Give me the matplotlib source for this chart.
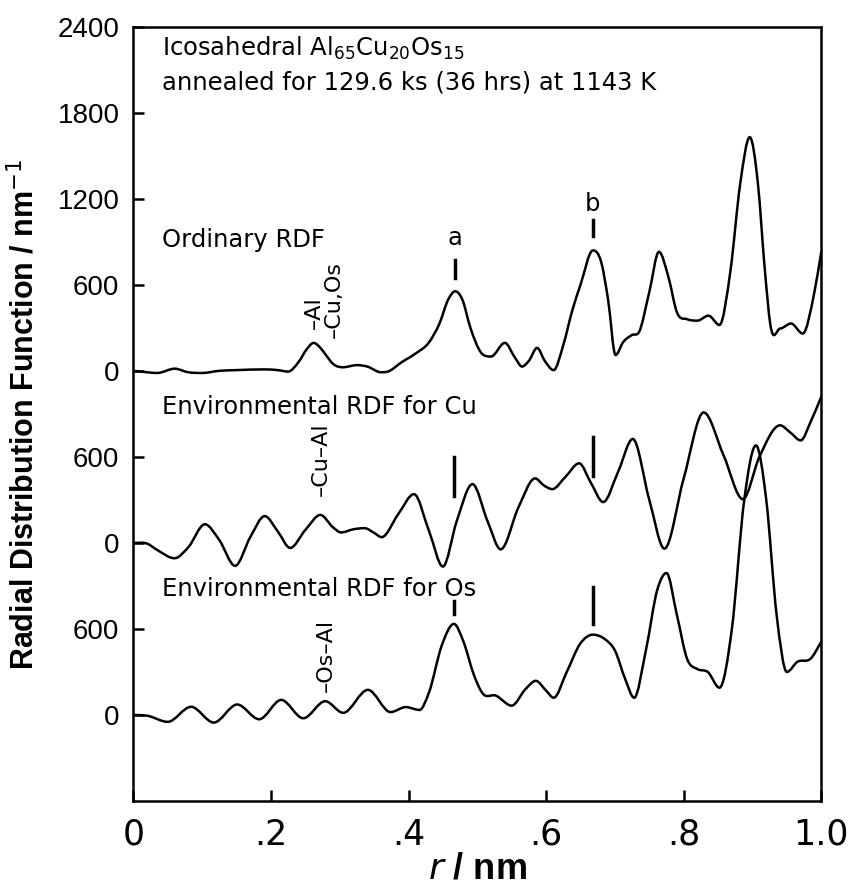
import numpy as np
import matplotlib
matplotlib.use("Agg")
import matplotlib.pyplot as plt
from matplotlib.path import Path
from matplotlib.patches import PathPatch

# r / nm and RDF values (nm^-1)
r_ord = [0.00, 0.02, 0.035, 0.06, 0.08, 0.10, 0.125, 0.15, 0.19, 0.21, 0.225, 0.24, 0.252, 0.262, 0.272,
         0.28, 0.29, 0.305, 0.325, 0.34, 0.36, 0.37, 0.39, 0.41, 0.43, 0.445, 0.458, 0.468, 0.478, 0.49,
         0.505, 0.52, 0.54, 0.555, 0.565, 0.575, 0.587, 0.598, 0.611, 0.625, 0.638, 0.65, 0.668, 0.68,
         0.69, 0.701, 0.712, 0.725, 0.735, 0.75, 0.764, 0.778, 0.79, 0.805, 0.82, 0.836, 0.852, 0.868,
         0.882, 0.896, 0.908, 0.918, 0.926, 0.94, 0.956, 0.973, 0.99, 1.00]
g_ord = [0, -10, -15, 15, -10, -15, 0, 5, 10, 5, -5, 60, 150, 195, 160,
         110, 50, 25, 40, 30, -10, -5, 60, 120, 200, 330, 500, 555, 500, 300,
         130, 100, 195, 90, 30, 70, 160, 70, 5, 180, 420, 600, 840, 760,
         500, 110, 200, 250, 270, 550, 830, 650, 410, 360, 350, 385, 320, 700,
         1300, 1630, 1300, 700, 320, 295, 330, 260, 550, 830]

r_cu = [0.00, 0.02, 0.035, 0.06, 0.08, 0.104, 0.125, 0.148, 0.17, 0.191, 0.21, 0.228, 0.25, 0.272, 0.29,
        0.302, 0.32, 0.336, 0.35, 0.361, 0.385, 0.408, 0.43, 0.45, 0.47, 0.493, 0.515, 0.534, 0.56,
        0.584, 0.597, 0.609, 0.628, 0.648, 0.665, 0.683, 0.705, 0.726, 0.75, 0.772, 0.80, 0.829, 0.858,
        0.886, 0.91, 0.94, 0.955, 0.97, 0.985, 1.00]
g_cu = [0, -5, -50, -107, -30, 130, 20, -160, 40, 187, 80, -35, 90, 195, 110,
        73, 95, 103, 70, 40, 200, 340, 80, -165, 150, 410, 150, -45, 250,
        450, 400, 375, 460, 555, 420, 285, 500, 725, 300, -40, 450, 910, 610,
        305, 600, 820, 770, 715, 850, 1020]

r_os = [0.00, 0.02, 0.05, 0.084, 0.117, 0.151, 0.183, 0.215, 0.247, 0.279, 0.305, 0.341, 0.374, 0.396,
        0.416, 0.43, 0.448, 0.466, 0.48, 0.495, 0.507, 0.527, 0.55, 0.57, 0.585, 0.60, 0.611, 0.63,
        0.65, 0.668, 0.685, 0.70, 0.715, 0.728, 0.745, 0.762, 0.775, 0.79, 0.805, 0.82, 0.835, 0.852,
        0.87, 0.888, 0.905, 0.92, 0.935, 0.95, 0.965, 0.985, 1.00]
g_os = [0, -5, -48, 57, -53, 73, -30, 105, -23, 96, 15, 175, 20, 55,
        35, 160, 480, 635, 510, 280, 155, 135, 65, 180, 238, 170, 120, 300,
        500, 560, 530, 450, 250, 120, 450, 880, 990, 700, 390, 320, 300, 190,
        600, 1500, 1880, 1500, 700, 300, 370, 395, 510]

offsets = [0, -1200, -2400]
ytick_pos = [2400, 1800, 1200, 600, 0, -600, -1200, -1800, -2400]
ytick_lab = ["2400", "1800", "1200", "600", "0", "600", "0", "600", "0"]
xtick_pos = [0, 0.2, 0.4, 0.6, 0.8, 1.0]
xtick_lab = ["0", ".2", ".4", ".6", ".8", "1.0"]

# peak markers: (r, y_low, y_high) in the offset y units
peak_bars = [(0.468, 650, 770), (0.668, 940, 1050),
             (0.466, -870, -600), (0.668, -735, -460),
             (0.466, -1695, -1605), (0.668, -1765, -1510)]


def smooth_path(x, y):
    # cubic bezier segments through the read points (drawn by matplotlib)
    x = np.asarray(x, float)
    y = np.asarray(y, float)
    n = len(x)
    h = np.diff(x)
    d = np.diff(y) / h
    s = np.zeros(n)
    s[0], s[-1] = d[0], d[-1]
    for i in range(1, n - 1):
        if d[i - 1] * d[i] <= 0:
            s[i] = 0.0
        else:
            s[i] = (d[i - 1] * h[i] + d[i] * h[i - 1]) / (h[i - 1] + h[i])
    verts = [(x[0], y[0])]
    codes = [Path.MOVETO]
    for i in range(n - 1):
        verts += [(x[i] + h[i] / 3, y[i] + s[i] * h[i] / 3),
                  (x[i + 1] - h[i] / 3, y[i + 1] - s[i + 1] * h[i] / 3),
                  (x[i + 1], y[i + 1])]
        codes += [Path.CURVE4] * 3
    return Path(verts, codes)


sans = ["Liberation Sans", "DejaVu Sans"]
txt = ["DejaVu Sans"]

fig = plt.figure(figsize=(8.6, 8.9), dpi=100)
ax = fig.add_axes([0.155, 0.1, 0.80, 0.87])

for rr, gg, off in zip([r_ord, r_cu, r_os], [g_ord, g_cu, g_os], offsets):
    ax.add_patch(PathPatch(smooth_path(rr, np.array(gg) + off), fill=False,
                           edgecolor="black", lw=1.8, capstyle="round", joinstyle="round"))

for x, y0, y1 in peak_bars:
    ax.plot([x, x], [y0, y1], color="black", lw=2.5)

ax.text(0.042, 2250, r"Icosahedral Al$_{65}$Cu$_{20}$Os$_{15}$", fontsize=17.5, family=txt, va="center")
ax.text(0.042, 2010, "annealed for 129.6 ks (36 hrs) at 1143 K", fontsize=17.5, family=txt, va="center")
ax.text(0.042, 912, "Ordinary RDF", fontsize=17.5, family=txt, va="center")
ax.text(0.042, -254, "Environmental RDF for Cu", fontsize=17.5, family=txt, va="center")
ax.text(0.042, -1523, "Environmental RDF for Os", fontsize=17.5, family=txt, va="center")
ax.text(0.468, 926, "a", fontsize=17.5, family=txt, ha="center", va="center")
ax.text(0.668, 1166, "b", fontsize=17.5, family=txt, ha="center", va="center")
ax.text(0.262, 290, "\u2013Al", fontsize=16, family=txt, rotation=90, ha="center", va="bottom")
ax.text(0.292, 226, "\u2013Cu,Os", fontsize=16, family=txt, rotation=90, ha="center", va="bottom")
ax.text(0.272, -871, "\u2013Cu\u2013Al", fontsize=16, family=txt, rotation=90, ha="center", va="bottom")
ax.text(0.28, -2243, "\u2013Os\u2013Al", fontsize=16, family=txt, rotation=90, ha="center", va="bottom")

ax.set_xlim(0, 1.0)
ax.set_ylim(-3000, 2400)
ax.set_yticks(ytick_pos)
ax.set_yticklabels(ytick_lab, fontsize=20, family=sans)
ax.set_xticks(xtick_pos)
ax.set_xticklabels(xtick_lab, fontsize=25, family=txt)
ax.tick_params(direction="in", length=8, width=1.8, pad=10)
ax.tick_params(axis="x", pad=12)
for s in ax.spines.values():
    s.set_linewidth(1.8)

ax.set_ylabel("Radial Distribution Function / nm$^{-1}$", fontsize=22, fontweight="bold",
              family=sans, labelpad=12)
ax.set_xlabel(r"$\mathbf{\it{r}}$ / nm", fontsize=26, family=sans, fontweight="bold", labelpad=0)

fig.savefig("out.png", dpi=100)
